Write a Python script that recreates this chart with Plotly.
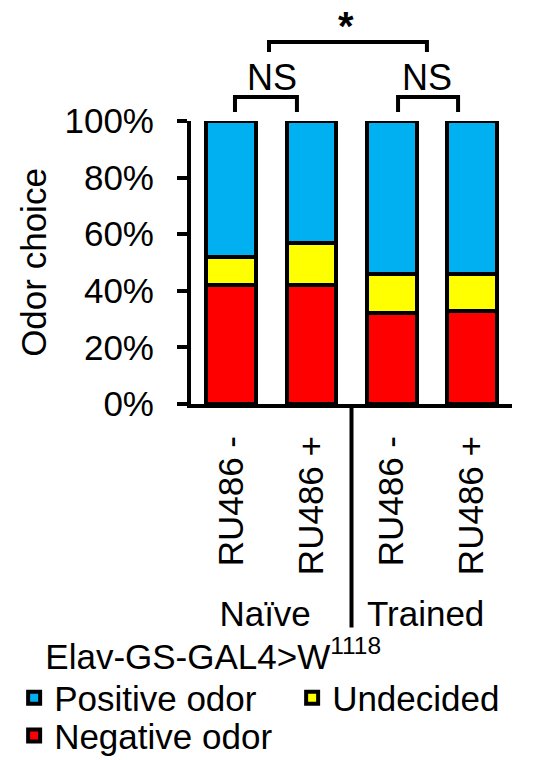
import plotly.graph_objects as go

# ---- data ----
groups = ["Naïve", "Naïve", "Trained", "Trained"]
treatments = ["RU486 -", "RU486 +", "RU486 -", "RU486 +"]
negative = [0.42, 0.42, 0.32, 0.33]
undecided = [0.10, 0.15, 0.14, 0.13]
positive = [0.48, 0.43, 0.54, 0.54]
y_ticks = [0, 0.2, 0.4, 0.6, 0.8, 1.0]
y_tick_labels = ["0%", "20%", "40%", "60%", "80%", "100%"]
series_names = ["Negative odor", "Undecided", "Positive odor"]
series_colors = ["#FF0000", "#FFFF00", "#00B0F0"]

FONT = "Liberation Sans, Arial, sans-serif"
FS = 35

x = [groups, treatments]
fig = go.Figure()
series_values = [negative, undecided, positive]
legend_ids = ["legend2", "legend", "legend"]
legend_widths = [240, 180, 233]
for name, vals, col, lg, lw in zip(series_names, series_values, series_colors, legend_ids, legend_widths):
    fig.add_trace(go.Bar(
        x=x, y=vals, name=name,
        marker=dict(color=col, line=dict(color="black", width=4)),
        legend=lg, legendwidth=lw,
    ))

# the page body has an 8px margin, so the figure is sized/offset to compensate
fig.update_layout(
    barmode="stack",
    bargap=0.38,
    width=526, height=752,
    margin=dict(l=183, r=22, t=113, b=356, autoexpand=False),
    paper_bgcolor="white", plot_bgcolor="white",
    font=dict(family=FONT, size=FS, color="black"),
    legend=dict(
        orientation="h", x=-0.551, xanchor="left", y=-0.774, yanchor="top",
        traceorder="reversed",
        title=dict(text="\u00a0\u00a0\u00a0Elav-GS-GAL4>W<sup>1118</sup>", side="top",
                   font=dict(size=FS)),
        font=dict(size=FS), bgcolor="rgba(0,0,0,0)", itemclick=False,
    ),
    legend2=dict(
        orientation="h", x=-0.551, xanchor="left", y=-1.068, yanchor="top",
        font=dict(size=FS), bgcolor="rgba(0,0,0,0)", itemclick=False,
    ),
)

fig.update_xaxes(
    tickangle=-90, showdividers=False, ticks="", showline=True,
    linewidth=4, linecolor="black", showgrid=False, automargin=False,
    tickfont=dict(size=FS), ticklabelstandoff=14,
)
fig.update_yaxes(
    range=[0, 1], tickvals=y_ticks, ticktext=y_tick_labels,
    ticks="outside", ticklen=10, tickwidth=4, tickcolor="black",
    showline=True, linewidth=4, linecolor="black", showgrid=False, zeroline=False,
    tickfont=dict(size=FS), automargin=False, ticklabelstandoff=16,
    title=dict(text="Odor choice", font=dict(size=FS), standoff=8),
)

# significance brackets and group separator
LW = 4
def bracket(x0, x1, ytop, ybot):
    return dict(type="path", xref="paper", yref="paper",
                path=f"M {x0},{ybot} L {x0},{ytop} L {x1},{ytop} L {x1},{ybot}",
                line=dict(color="black", width=LW))

fig.add_shape(bracket(0.137, 0.330, 1.085, 1.032))
fig.add_shape(bracket(0.645, 0.832, 1.085, 1.032))
fig.add_shape(bracket(0.243, 0.735, 1.279, 1.244))
fig.add_shape(type="line", xref="paper", yref="paper", x0=0.5, x1=0.5, y0=0, y1=-0.79,
              line=dict(color="black", width=LW))

ann = dict(xref="paper", yref="paper", showarrow=False, xanchor="center", yanchor="middle")
fig.add_annotation(text="NS", x=0.252, y=1.152, font=dict(size=36), **ann)
fig.add_annotation(text="NS", x=0.734, y=1.152, font=dict(size=36), **ann)
fig.add_annotation(text="<b>*</b>", x=0.483, y=1.335, font=dict(size=40), **ann)

fig.write_html("out.html")
